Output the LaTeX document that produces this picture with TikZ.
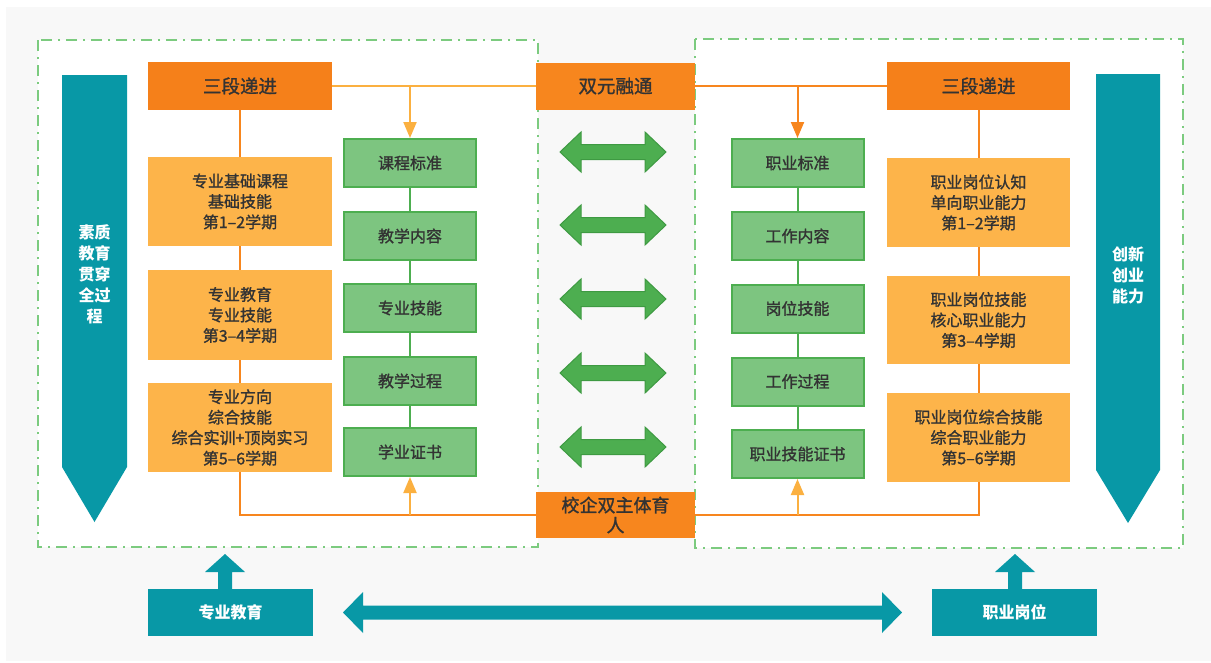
\documentclass[tikz,border=0pt]{standalone}
\usepackage{fontspec}
\usepackage{xcolor}
\usetikzlibrary{arrows.meta}
\newfontfamily\cjk{Noto Sans CJK SC}[FakeBold=1.3]
\newfontfamily\cjkw{Noto Sans CJK SC}
\definecolor{bg}{HTML}{F8F8F8}
\definecolor{tl}{HTML}{0898A6}
\definecolor{o1}{HTML}{F5801A}
\definecolor{o2}{HTML}{F7861E}
\definecolor{y1}{HTML}{FDB44A}
\definecolor{y2}{HTML}{FBB040}
\definecolor{g1}{HTML}{7DC580}
\definecolor{g2}{HTML}{4DAE50}
\definecolor{g3}{HTML}{3E9A42}
\definecolor{g4}{HTML}{7CCB7F}
\definecolor{txt}{HTML}{333333}

\begin{document}
\begin{tikzpicture}[x=1pt,y=-1pt,
	hdr/.style={fill=o1, minimum height=48pt, inner sep=0pt, text=txt, font=\cjk\fontsize{18.5}{21}\selectfont},
	stage/.style={fill=y1, minimum width=184pt, minimum height=89pt, inner sep=0pt, align=center, text=txt, font=\cjk\fontsize{16}{20.5}\selectfont},
	gbox/.style={fill=g1, draw=g2, line width=2pt, minimum width=132pt, minimum height=48pt, inner sep=0pt, text=txt, font=\cjk\fontsize{16}{20}\selectfont},
	tbox/.style={fill=tl, minimum width=165pt, minimum height=47pt, inner sep=0pt, text=white, font=\cjkw\bfseries\fontsize{16}{20}\selectfont},
	side/.style={align=center, text=white, font=\cjkw\bfseries\fontsize{16}{21}\selectfont},
	dashbox/.style={draw=g4, fill=white, line width=2pt, dash pattern=on 11pt off 6pt on 2pt off 6pt},
	oline/.style={draw=o2, line width=2pt},
	yline/.style={draw=y2, line width=2pt},
	tip/.style={-{Triangle[width=13pt,length=16pt]}}]
	\useasboundingbox (0,0) rectangle (1211,662);
	\fill [bg] (6,7) rectangle (1211,661);
	\draw [dashbox] (38,40) rectangle (538,547);
	\draw [dashbox] (695,39) rectangle (1183,548);

	% 两侧竖向箭头
	\fill [tl] (62,75) -- (127,75) -- (127,467) -- (94.5,522) -- (62,467) -- cycle;
	\node [side] (quality) at (94.5,274) {素质\\教育\\贯穿\\全过\\程};
	\fill [tl] (1096,74) -- (1160,74) -- (1160,470) -- (1128,523) -- (1096,470) -- cycle;
	\node [side] (innov) at (1128,275) {创新\\创业\\能力};

	% 中间
	\node [hdr, fill=o2, minimum width=159pt, minimum height=47pt] (fuse) at (615.5,86) {双元融通};
	\node [hdr, fill=o2, minimum width=159pt, minimum height=46pt, align=center, font=\cjk\fontsize{18}{20}\selectfont] (coop) at (615.5,515) {校企双主体育\\人};
	\foreach \y in {152,225,299,373,447}
		\filldraw [fill=g2, draw=g3, line width=1pt, line join=miter] (560,\y) -- (581,\y-20) -- (581,\y-7.5) -- (645,\y-7.5) -- (645,\y-20) -- (666,\y) -- (645,\y+20) -- (645,\y+7.5) -- (581,\y+7.5) -- (581,\y+20) -- cycle;

	% 左侧
	\node [hdr, minimum width=184pt] (lhead) at (240,86) {三段递进};
	\node [stage] (lstage1) at (240,201.5) {专业基础课程\\基础技能\\第1–2学期};
	\node [stage, minimum height=90pt] (lstage2) at (240,315) {专业教育\\专业技能\\第3–4学期};
	\node [stage] (lstage3) at (240,427.5) {专业方向\\综合技能\\综合实训+顶岗实习\\第5–6学期};
	\node [gbox] (lstd) at (410,163) {课程标准};
	\node [gbox] (lcont) at (410,236) {教学内容};
	\node [gbox] (lskill) at (410,308) {专业技能};
	\node [gbox] (lproc) at (410,381) {教学过程};
	\node [gbox] (lcert) at (410,452) {学业证书};

	\draw [yline] (lhead.east) -- (fuse.west);
	\draw [yline, tip] (lstd.north |- lhead.east) -- (lstd.north);
	\draw [oline] (lhead.south) -- (lstage1.north);
	\draw [oline] (lstage1.south) -- (lstage2.north);
	\draw [oline] (lstage2.south) -- (lstage3.north);
	\draw [oline] (lstage3.south) |- (coop.west);
	\draw [yline, tip] (lcert.south |- coop.west) -- (lcert.south);
	\foreach \a/\b in {lstd/lcont,lcont/lskill,lskill/lproc,lproc/lcert}
		\draw [g2, line width=2pt] (\a.south) -- (\b.north);

	% 右侧
	\node [hdr, minimum width=183pt] (rhead) at (978.5,86) {三段递进};
	\node [stage, minimum width=183pt] (rstage1) at (978.5,202.5) {职业岗位认知\\单向职业能力\\第1–2学期};
	\node [stage, minimum width=183pt, minimum height=88pt] (rstage2) at (978.5,320) {职业岗位技能\\核心职业能力\\第3–4学期};
	\node [stage, minimum width=183pt] (rstage3) at (978.5,437.5) {职业岗位综合技能\\综合职业能力\\第5–6学期};
	\node [gbox] (rstd) at (797.5,163) {职业标准};
	\node [gbox] (rcont) at (797.5,236) {工作内容};
	\node [gbox] (rskill) at (797.5,308.5) {岗位技能};
	\node [gbox] (rproc) at (797.5,381.5) {工作过程};
	\node [gbox] (rcert) at (797.5,454) {职业技能证书};

	\draw [oline] (fuse.east) -- (rhead.west);
	\draw [oline, tip] (rstd.north |- rhead.west) -- (rstd.north);
	\draw [oline] (rhead.south) -- (rstage1.north);
	\draw [oline] (rstage1.south) -- (rstage2.north);
	\draw [oline] (rstage2.south) -- (rstage3.north);
	\draw [oline] (rstage3.south) |- (coop.east);
	\draw [yline, tip] (rcert.south |- coop.east) -- (rcert.south);
	\foreach \a/\b in {rstd/rcont,rcont/rskill,rskill/rproc,rproc/rcert}
		\draw [g2, line width=2pt] (\a.south) -- (\b.north);

	% 底部
	\node [tbox] (edu) at (230.5,612.5) {专业教育};
	\node [tbox] (job) at (1014.5,612.5) {职业岗位};
	\fill [tl] (218,589) -- (218,572) -- (205,572) -- (225,554) -- (245,572) -- (232,572) -- (232,589) -- cycle;
	\fill [tl] (1008,589) -- (1008,572) -- (995,572) -- (1015,554) -- (1035,572) -- (1022,572) -- (1022,589) -- cycle;
	\fill [tl] (343,612.5) -- (363,592) -- (363,605.5) -- (882,605.5) -- (882,592) -- (902,612.5) -- (882,633) -- (882,619.5) -- (363,619.5) -- (363,633) -- cycle;
\end{tikzpicture}
\end{document}
